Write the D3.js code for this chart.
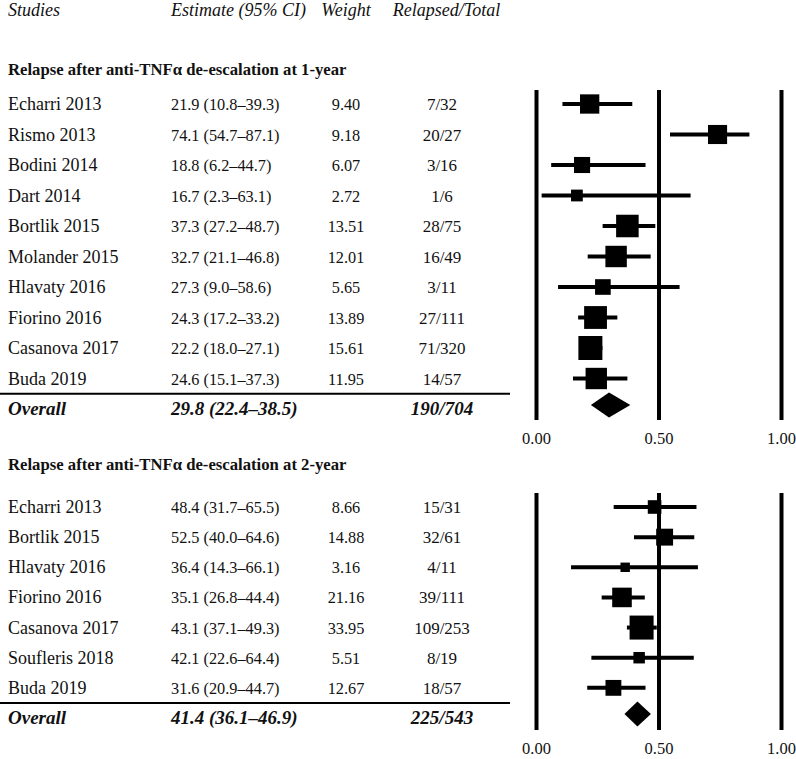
<!DOCTYPE html>
<html>
<head>
<meta charset="utf-8">
<script src="https://cdn.jsdelivr.net/npm/d3@7"></script>
<style>
html,body{margin:0;padding:0;background:#fff;}
svg{display:block;}
text{font-family:"Liberation Serif","DejaVu Serif",serif;fill:#111;}
</style>
</head>
<body>
<svg id="chart" width="796" height="759"></svg>
<script>
// ---- Data ----
const columnHeaders = ["Studies", "Estimate (95% CI)", "Weight", "Relapsed/Total"];
const axisTicks = [0, 0.5, 1];

const title1 = "Relapse after anti-TNFα de-escalation at 1-year";
const studies1 = ["Echarri 2013","Rismo 2013","Bodini 2014","Dart 2014","Bortlik 2015","Molander 2015","Hlavaty 2016","Fiorino 2016","Casanova 2017","Buda 2019"];
const est1 = [21.9, 74.1, 18.8, 16.7, 37.3, 32.7, 27.3, 24.3, 22.2, 24.6];
const lo1  = [10.8, 54.7, 6.2, 2.3, 27.2, 21.1, 9.0, 17.2, 18.0, 15.1];
const hi1  = [39.3, 87.1, 44.7, 63.1, 48.7, 46.8, 58.6, 33.2, 27.1, 37.3];
const weight1 = [9.40, 9.18, 6.07, 2.72, 13.51, 12.01, 5.65, 13.89, 15.61, 11.95];
const relapsed1 = ["7/32","20/27","3/16","1/6","28/75","16/49","3/11","27/111","71/320","14/57"];
const overall1 = {est: 29.8, lo: 22.4, hi: 38.5, total: "190/704"};

const title2 = "Relapse after anti-TNFα de-escalation at 2-year";
const studies2 = ["Echarri 2013","Bortlik 2015","Hlavaty 2016","Fiorino 2016","Casanova 2017","Soufleris 2018","Buda 2019"];
const est2 = [48.4, 52.5, 36.4, 35.1, 43.1, 42.1, 31.6];
const lo2  = [31.7, 40.0, 14.3, 26.8, 37.1, 22.6, 20.9];
const hi2  = [65.5, 64.6, 66.1, 44.4, 49.3, 64.4, 44.7];
const weight2 = [8.66, 14.88, 3.16, 21.16, 33.95, 5.51, 12.67];
const relapsed2 = ["15/31","32/61","4/11","39/111","109/253","8/19","18/57"];
const overall2 = {est: 41.4, lo: 36.1, hi: 46.9, total: "225/543"};

// ---- Layout ----
const svg = d3.select("#chart");
const FS_NAME = 18, FS_NUM = 16.3, FS_HDR = 18, FS_TITLE = 16.7, FS_OV = 19, FS_TICK = 16.5;
const colX = {study: 8, est: 171, weight: 346, total: 442};
const x = d3.scaleLinear().domain([0, 1]).range([536, 781]);
const fmt = v => v.toFixed(1);
const fmtW = v => v.toFixed(2);

// Column headers
const hdr = svg.append("g").attr("font-style", "italic").attr("font-size", FS_HDR);
hdr.append("text").attr("x", colX.study).attr("y", 16).text(columnHeaders[0]);
hdr.append("text").attr("x", colX.est).attr("y", 16).text(columnHeaders[1]);
hdr.append("text").attr("x", colX.weight).attr("y", 16).attr("text-anchor", "middle").text(columnHeaders[2]);
hdr.append("text").attr("x", colX.total + 4.5).attr("y", 16).attr("text-anchor", "middle").text(columnHeaders[3]);

function panel(cfg) {
  const n = cfg.studies.length;
  const y = d3.scaleLinear().domain([0, n]).range([cfg.y0, cfg.y1]);
  const size = d3.scaleSqrt().domain([0, d3.max(cfg.weight)]).range([3, 24]);
  const g = svg.append("g");

  g.append("text").attr("x", colX.study).attr("y", cfg.titleY)
    .attr("font-weight", "bold").attr("font-size", FS_TITLE).text(cfg.title);

  // axis with vertical reference lines
  const axis = d3.axisBottom(x).tickValues(axisTicks).tickFormat(d3.format(".2f"))
    .tickSizeInner(-(cfg.lineBottom - cfg.lineTop)).tickSizeOuter(0).tickPadding(12);
  const ax = g.append("g").attr("transform", `translate(0,${cfg.lineBottom})`).call(axis);
  ax.select(".domain").remove();
  ax.selectAll(".tick line").attr("stroke", "#000").attr("stroke-width", 4);
  ax.selectAll(".tick text").attr("font-size", FS_TICK).attr("font-family", '"Liberation Serif",serif').attr("fill", "#111");

  const rows = cfg.studies.map((s, i) => ({s, i, est: cfg.est[i], lo: cfg.lo[i], hi: cfg.hi[i], w: cfg.weight[i], t: cfg.total[i]}));
  const r = g.selectAll("g.row").data(rows).join("g").attr("class", "row");
  const base = d => y(d.i) + 6;
  r.append("text").attr("x", colX.study).attr("y", base).attr("font-size", FS_NAME).text(d => d.s);
  r.append("text").attr("x", colX.est).attr("y", base).attr("font-size", FS_NUM)
    .text(d => `${fmt(d.est)} (${fmt(d.lo)}–${fmt(d.hi)})`);
  r.append("text").attr("x", colX.weight).attr("y", base).attr("text-anchor", "middle").attr("font-size", FS_NUM).text(d => fmtW(d.w));
  r.append("text").attr("x", colX.total).attr("y", base).attr("text-anchor", "middle").attr("font-size", 17).text(d => d.t);

  // CI lines and squares
  r.append("line").attr("x1", d => x(d.lo / 100)).attr("x2", d => x(d.hi / 100))
    .attr("y1", d => y(d.i)).attr("y2", d => y(d.i)).attr("stroke", "#000").attr("stroke-width", 4);
  r.append("rect")
    .attr("x", d => x(d.est / 100) - size(d.w) / 2).attr("y", d => y(d.i) - size(d.w) / 2)
    .attr("width", d => size(d.w)).attr("height", d => size(d.w)).attr("fill", "#000");

  // separator
  g.append("line").attr("x1", 0).attr("x2", 510)
    .attr("y1", (y(n - 1) + y(n)) / 2).attr("y2", (y(n - 1) + y(n)) / 2)
    .attr("stroke", "#000").attr("stroke-width", 2);

  // overall
  const oy = y(n);
  const ov = g.append("g").attr("font-weight", "bold").attr("font-style", "italic").attr("font-size", FS_OV);
  ov.append("text").attr("x", colX.study).attr("y", oy + 6).text("Overall");
  ov.append("text").attr("x", colX.est).attr("y", oy + 6).text(`${fmt(cfg.overall.est)} (${fmt(cfg.overall.lo)}–${fmt(cfg.overall.hi)})`);
  ov.append("text").attr("x", colX.total).attr("y", oy + 6).attr("text-anchor", "middle").text(cfg.overall.total);

  const dy = oy - 4;
  const pts = [[x(cfg.overall.lo / 100), dy], [x(cfg.overall.est / 100), dy - 12.5],
               [x(cfg.overall.hi / 100), dy], [x(cfg.overall.est / 100), dy + 12.5]];
  g.append("path").attr("d", d3.line()(pts) + "Z").attr("fill", "#000");
}

panel({title: title1, titleY: 75, studies: studies1, est: est1, lo: lo1, hi: hi1, weight: weight1,
  total: relapsed1, overall: overall1, y0: 104, y1: 409, lineTop: 90, lineBottom: 420});
panel({title: title2, titleY: 470, studies: studies2, est: est2, lo: lo2, hi: hi2, weight: weight2,
  total: relapsed2, overall: overall2, y0: 507, y1: 718, lineTop: 493, lineBottom: 730});
</script>
</body>
</html>
